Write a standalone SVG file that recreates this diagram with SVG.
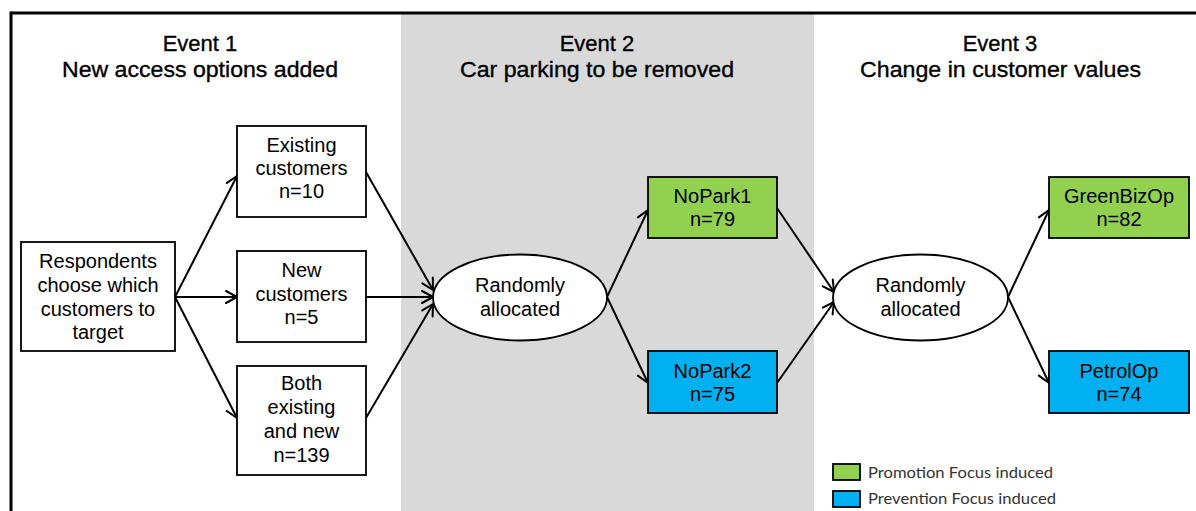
<svg xmlns="http://www.w3.org/2000/svg" width="1196" height="511" viewBox="0 0 1196 511">
<style>
text{font-family:"Liberation Sans",Arial,sans-serif;fill:#000;text-anchor:middle}
.t{font-size:22px;stroke:#000;stroke-width:0.35}
.b{font-size:20px}
.box{fill:#fff;stroke:#000;stroke-width:1.8}
.g{fill:#92d050;stroke:#000;stroke-width:1.8}
.bl{fill:#00b0f0;stroke:#000;stroke-width:1.8}
.c line{stroke:#000;stroke-width:2;marker-end:url(#ah)}
.lg{font-family:Lato,"Open Sans",sans-serif;font-size:15px;fill:#333;text-anchor:start}
</style>
<defs>
<marker id="ah" markerUnits="userSpaceOnUse" markerWidth="16" markerHeight="16" refX="13" refY="8" orient="auto" viewBox="0 0 16 16">
<path d="M2,2 L13,8 L2,14" fill="none" stroke="#000" stroke-width="2" stroke-linejoin="round" stroke-linecap="round"/>
</marker>
</defs>
<rect x="0" y="0" width="1196" height="511" fill="#fff"/>
<rect id="band" x="401" y="14" width="413" height="497" fill="#d9d9d9"/>
<g id="frame" fill="none" stroke="#000" stroke-width="3">
<line x1="11" y1="13" x2="1196" y2="13"/>
<line x1="11" y1="11.5" x2="11" y2="511"/>
</g>
<g id="titles">
<text x="200" y="51" class="t">Event 1</text>
<text x="200" y="77" class="t" textLength="276" lengthAdjust="spacingAndGlyphs">New access options  added</text>
<text x="597" y="51" class="t">Event 2</text>
<text x="597" y="77" class="t" textLength="274" lengthAdjust="spacingAndGlyphs">Car parking to be removed</text>
<text x="1000" y="51" class="t">Event 3</text>
<text x="1000.5" y="77" class="t" textLength="281" lengthAdjust="spacingAndGlyphs">Change in customer values</text>
</g>
<g class="c" id="connectors">
<line x1="175" y1="297" x2="237" y2="176"/>
<line x1="175" y1="297" x2="237" y2="297"/>
<line x1="175" y1="297" x2="237" y2="418"/>
<line x1="366" y1="172" x2="433" y2="290"/>
<line x1="366" y1="297" x2="433" y2="297"/>
<line x1="366" y1="418" x2="433" y2="304"/>
<line x1="607" y1="297" x2="648" y2="210"/>
<line x1="607" y1="297" x2="648" y2="383"/>
<line x1="777" y1="208" x2="834" y2="292"/>
<line x1="777" y1="383" x2="834" y2="302"/>
<line x1="1008" y1="297" x2="1049" y2="210"/>
<line x1="1008" y1="297" x2="1049" y2="383"/>
</g>
<g id="respondents">
<rect class="box" x="21" y="242" width="154" height="109"/>
<text class="b" x="98" y="268">Respondents</text>
<text class="b" x="98" y="292">choose which</text>
<text class="b" x="98" y="316">customers to</text>
<text class="b" x="98" y="339">target</text>
</g>
<g id="existing">
<rect class="box" x="237" y="126" width="129" height="91"/>
<text class="b" x="301.5" y="152">Existing</text>
<text class="b" x="301.5" y="175">customers</text>
<text class="b" x="301.5" y="198">n=10</text>
</g>
<g id="new">
<rect class="box" x="237" y="251" width="129" height="91"/>
<text class="b" x="301.5" y="277">New</text>
<text class="b" x="301.5" y="301">customers</text>
<text class="b" x="301.5" y="324">n=5</text>
</g>
<g id="both">
<rect class="box" x="237" y="366" width="129" height="109"/>
<text class="b" x="301.5" y="390">Both</text>
<text class="b" x="301.5" y="414">existing</text>
<text class="b" x="301.5" y="438">and new</text>
<text class="b" x="301.5" y="462">n=139</text>
</g>
<g id="random1">
<ellipse class="box" cx="520" cy="297.5" rx="87" ry="43"/>
<text class="b" x="520" y="292">Randomly</text>
<text class="b" x="520" y="316">allocated</text>
</g>
<g id="nopark1">
<rect class="g" x="648" y="177" width="129" height="61"/>
<text class="b" x="712.5" y="203">NoPark1</text>
<text class="b" x="712.5" y="226">n=79</text>
</g>
<g id="nopark2">
<rect class="bl" x="648" y="351" width="129" height="62"/>
<text class="b" x="712.5" y="378">NoPark2</text>
<text class="b" x="712.5" y="401">n=75</text>
</g>
<g id="random2">
<ellipse class="box" cx="920.5" cy="297.5" rx="87.5" ry="43"/>
<text class="b" x="920.5" y="292">Randomly</text>
<text class="b" x="920.5" y="316">allocated</text>
</g>
<g id="greenbizop">
<rect class="g" x="1049" y="177" width="140" height="61"/>
<text class="b" x="1119" y="203">GreenBizOp</text>
<text class="b" x="1119" y="226">n=82</text>
</g>
<g id="petrolop">
<rect class="bl" x="1049" y="351" width="140" height="62"/>
<text class="b" x="1119" y="378">PetrolOp</text>
<text class="b" x="1119" y="401">n=74</text>
</g>
<g id="legend">
<rect class="g" x="833" y="464" width="27" height="16"/>
<text class="lg" x="868" y="478" textLength="185" lengthAdjust="spacingAndGlyphs">Promotion Focus induced</text>
<rect class="bl" x="833" y="491" width="27" height="16"/>
<text class="lg" x="868" y="504" textLength="188" lengthAdjust="spacingAndGlyphs">Prevention Focus induced</text>
</g>
</svg>
